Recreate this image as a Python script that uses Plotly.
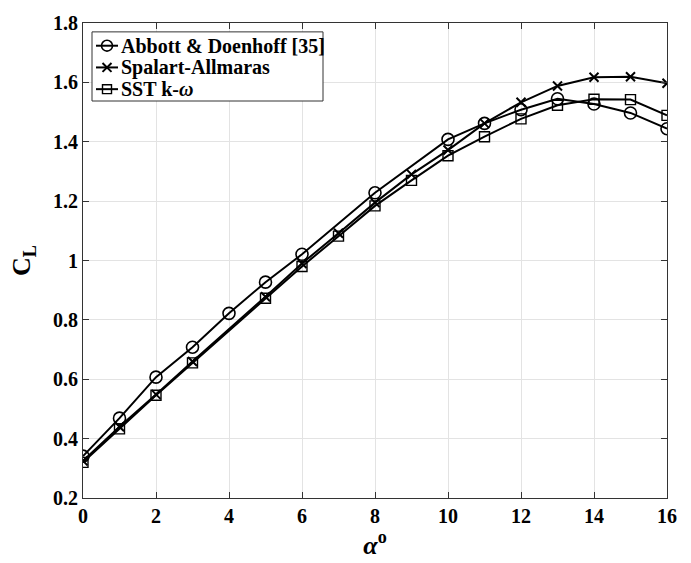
import plotly.graph_objects as go

# Lift coefficient vs angle of attack
alpha_exp = [0, 1, 2, 3, 4, 5, 6, 8, 10, 11, 12, 13, 14, 15, 16]
cl_exp = [0.341, 0.469, 0.607, 0.708, 0.822, 0.927, 1.021, 1.228, 1.408,
          1.462, 1.508, 1.545, 1.527, 1.497, 1.444]

alpha_cfd = [0, 1, 2, 3, 5, 6, 7, 8, 9, 10, 11, 12, 13, 14, 15, 16]
cl_sa = [0.325, 0.440, 0.549, 0.660, 0.878, 0.990, 1.092, 1.195, 1.290, 1.372,
         1.462, 1.533, 1.588, 1.617, 1.619, 1.597]
cl_sst = [0.320, 0.433, 0.546, 0.655, 0.873, 0.980, 1.082, 1.184, 1.270, 1.353,
          1.417, 1.477, 1.523, 1.543, 1.542, 1.489]

series_names = ["Abbott & Doenhoff [35]", "Spalart-Allmaras", "SST k-<i>ω</i>"]

x_ticks = list(range(0, 17, 2))
y_ticks = [0.2, 0.4, 0.6, 0.8, 1.0, 1.2, 1.4, 1.6, 1.8]
y_tick_text = ["0.2", "0.4", "0.6", "0.8", "1", "1.2", "1.4", "1.6", "1.8"]

FONT = "Liberation Serif"
W, H = 691, 563
ML, MR, MT, MB = 83, 24, 19, 63
line = dict(color="black", width=2)

fig = go.Figure()
fig.add_trace(go.Scatter(
    x=alpha_exp, y=cl_exp, mode="lines+markers", name=series_names[0],
    line=line,
    marker=dict(symbol="circle-open", size=12, color="black", line=dict(width=1.6)),
))
fig.add_trace(go.Scatter(
    x=alpha_cfd, y=cl_sa, mode="lines+markers", name=series_names[1],
    line=line,
    marker=dict(symbol="x-thin-open", size=9, color="black", line=dict(width=2)),
))
fig.add_trace(go.Scatter(
    x=alpha_cfd, y=cl_sst, mode="lines+markers", name=series_names[2],
    line=line,
    marker=dict(symbol="square-open", size=10, color="black", line=dict(width=1.4)),
))

axis_common = dict(
    showline=True, linecolor="#333333", linewidth=1, mirror="ticks",
    ticks="inside", ticklen=6, tickcolor="#333333",
    showgrid=True, gridcolor="#e3e3e3", gridwidth=1, zeroline=False,
    tickfont=dict(family=FONT, size=20, color="black", weight="bold"),
)

fig.update_xaxes(
    range=[0, 16], tickvals=x_ticks, **axis_common,
    title=dict(text="<i>α</i><sup>o</sup>",
               font=dict(family=FONT, size=26, color="black", weight="bold"),
               standoff=6),
)
fig.update_yaxes(
    range=[0.2, 1.8], tickvals=y_ticks, ticktext=y_tick_text, **axis_common,
    title=dict(text="C<sub>L</sub>",
               font=dict(family=FONT, size=26, color="black", weight="bold"),
               standoff=14),
)


# Compact legend box drawn with shapes and annotations (pixel -> paper helpers)
def px(X):
    return (X - ML) / (W - ML - MR)


def py(Y):
    return 1 - (Y - MT) / (H - MT - MB)


shapes = [dict(type="rect", xref="paper", yref="paper",
               x0=px(92), x1=px(323), y0=py(98), y1=py(28),
               line=dict(color="#333333", width=1), fillcolor="white", layer="above")]
annotations = []
row_y = [42, 64, 86]
sx0, sx1, sc = 96, 118, 107
for i, (name, Y) in enumerate(zip(series_names, row_y)):
    shapes.append(dict(type="line", xref="paper", yref="paper",
                       x0=px(sx0), x1=px(sx1), y0=py(Y), y1=py(Y),
                       line=dict(color="black", width=2), layer="above"))
    if i == 0:
        shapes.append(dict(type="circle", xref="paper", yref="paper",
                           x0=px(sc - 5.5), x1=px(sc + 5.5), y0=py(Y + 5.5), y1=py(Y - 5.5),
                           line=dict(color="black", width=1.6), layer="above"))
    elif i == 1:
        for d in (1, -1):
            shapes.append(dict(type="line", xref="paper", yref="paper",
                               x0=px(sc - 4.5), x1=px(sc + 4.5),
                               y0=py(Y - 4.5 * d), y1=py(Y + 4.5 * d),
                               line=dict(color="black", width=2), layer="above"))
    else:
        shapes.append(dict(type="rect", xref="paper", yref="paper",
                           x0=px(sc - 4.5), x1=px(sc + 4.5), y0=py(Y + 4.5), y1=py(Y - 4.5),
                           line=dict(color="black", width=1.4), layer="above"))
    annotations.append(dict(xref="paper", yref="paper", x=px(119), y=py(Y),
                            xanchor="left", yanchor="middle", showarrow=False,
                            text=name,
                            font=dict(family=FONT, size=20, color="black", weight="bold")))

fig.update_layout(
    width=W, height=H,
    margin=dict(l=ML, r=MR, t=MT, b=MB),
    paper_bgcolor="white", plot_bgcolor="white",
    font=dict(family=FONT, color="black"),
    showlegend=False,
    shapes=shapes,
    annotations=annotations,
)

fig.write_html("out.html")
